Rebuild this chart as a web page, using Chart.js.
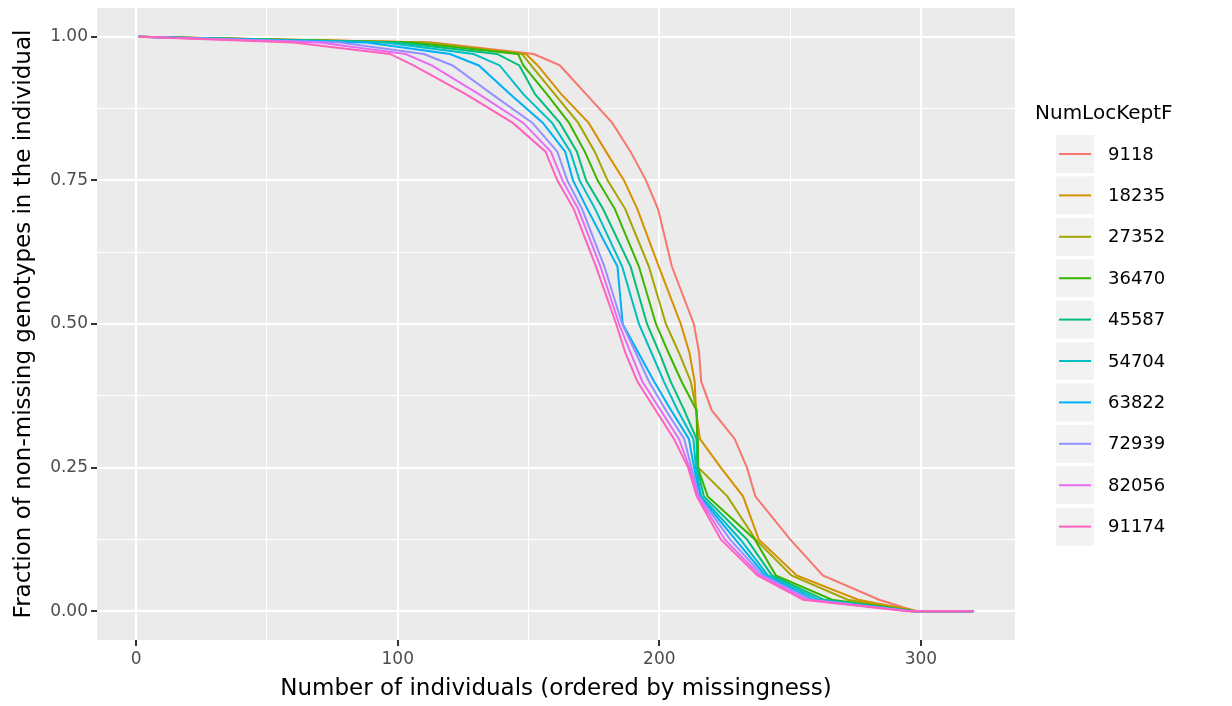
<!DOCTYPE html>
<html>
<head>
<meta charset="utf-8">
<script src="https://cdn.jsdelivr.net/npm/chart.js@4/dist/chart.umd.min.js"></script>
<style>
  html, body { margin: 0; padding: 0; background: #fff; }
  #wrap { width: 1232px; height: 706px; }
</style>
</head>
<body>
<div id="wrap"><canvas id="chart" width="1232" height="706"></canvas></div>
<script>
// fraction of non-missing genotypes at these levels
const levels = [1.0, 0.99, 0.97, 0.95, 0.9, 0.85, 0.8, 0.75, 0.7, 0.6, 0.5, 0.45, 0.4, 0.35, 0.3, 0.25, 0.2, 0.125, 0.0625, 0.02, 0.0, 0.0]

// individual index where each series crosses each level
const s9118  = [1, 113, 152, 162, 172, 182, 189, 194.9, 199.5, 204.8, 213.2, 215.2, 216, 220, 228.8, 233.5, 236.7, 250, 262.5, 284, 298, 320]
const s18235 = [1, 112, 149, 153.5, 162.5, 173, 179.6, 186.5, 191.6, 199.8, 208.2, 211.5, 213.5, 214, 215.5, 223.5, 232, 238, 252.5, 276, 299, 320]
const s27352 = [1, 110, 147.5, 151, 160, 169, 175.3, 180.2, 187, 196, 202.5, 207.5, 212, 214.2, 214.7, 214.9, 226, 236.8, 250.5, 272, 298, 320]
const s36470 = [1, 105, 146, 148, 157, 165.5, 171.5, 176.4, 183, 192.2, 198.7, 203.5, 208.5, 214.2, 214.5, 214.7, 218.5, 236.5, 244.5, 266, 298, 320]
const s45587 = [1, 100, 138, 146.5, 152.5, 162, 168.5, 172, 178.5, 189, 195.3, 200, 204.3, 209.5, 214.2, 214.5, 217, 233.5, 243, 263, 297, 320]
const s54704 = [1, 95, 129, 139, 148, 159, 166, 169.5, 175.5, 185.8, 192.2, 197, 201.7, 207, 213, 214, 216, 231, 241.5, 261, 297, 320]
const s63822 = [1, 88, 120, 131, 143, 155.5, 164, 167, 172.5, 184, 186, 192, 198, 204.5, 211.3, 213.3, 215.5, 229, 240.5, 259, 297, 320]
const s72939 = [1, 78, 110, 121, 136, 151.5, 161, 164.8, 170.5, 179, 185.8, 191, 196, 202.5, 209.5, 212.3, 215.2, 227, 239.5, 258, 296, 320]
const s82056 = [1, 70, 103, 113, 131, 148, 158.5, 163, 169, 177.5, 184.6, 189, 193.5, 200.5, 207.5, 211.5, 214.8, 225, 238.5, 256.5, 296, 320]
const s91174 = [1, 60, 97, 106, 126, 144, 156.5, 161, 167.3, 175.8, 183.5, 187, 191.6, 198.6, 205.6, 211, 214.3, 223.5, 237.5, 255, 295, 320]

const seriesNames = ['9118', '18235', '27352', '36470', '45587', '54704', '63822', '72939', '82056', '91174']
const seriesX = [s9118, s18235, s27352, s36470, s45587, s54704, s63822, s72939, s82056, s91174]
const colors = ['#F8766D', '#D89000', '#A3A500', '#39B600', '#00BF7D', '#00BFC4', '#00B0F6', '#9590FF', '#E76BF3', '#FF62BC']

// axis breaks: labelled majors and unlabelled minors
const xBreaks = [0, 50, 100, 150, 200, 250, 300]
const xLabelled = [0, 100, 200, 300]
const yBreaks = [0, 0.125, 0.25, 0.375, 0.5, 0.625, 0.75, 0.875, 1.0]
const yLabelled = [0, 0.25, 0.5, 0.75, 1.0]

const FONT = "'DejaVu Sans', 'Liberation Sans', sans-serif"

const datasets = seriesNames.map((name, i) => ({
  label: name,
  data: seriesX[i].map((x, j) => ({ x: x, y: levels[j] })),
  borderColor: colors[i],
  backgroundColor: colors[i],
  borderWidth: 2,
  pointRadius: 0,
  tension: 0,
  fill: false,
  order: seriesNames.length - i  // last series on top, like ggplot
}))

const isMajor = (list, v) => list.some(b => Math.abs(b - v) < 1e-9)

// grey panel behind the grid
const panelBg = {
  id: 'panelBg',
  beforeDraw(chart) {
    const { ctx, chartArea: a } = chart
    ctx.save()
    ctx.fillStyle = '#EBEBEB'
    ctx.fillRect(a.left, a.top, a.right - a.left, a.bottom - a.top)
    ctx.restore()
  }
}

// ggplot style legend with title and grey key boxes
const ggLegend = {
  id: 'ggLegend',
  afterDraw(chart) {
    const ctx = chart.ctx
    const sets = chart.data.datasets
    ctx.save()
    ctx.fillStyle = '#000'
    ctx.font = '20px ' + FONT
    ctx.textBaseline = 'middle'
    ctx.textAlign = 'left'
    ctx.fillText('NumLocKeptF', 1035, 114)
    const top = 135, pitch = 41.4, boxW = 38, boxH = 38, boxX = 1056
    sets.forEach((ds, i) => {
      const y = top + i * pitch
      ctx.fillStyle = '#F2F2F2'
      ctx.fillRect(boxX, y, boxW, boxH)
      ctx.strokeStyle = ds.borderColor
      ctx.lineWidth = 2
      ctx.beginPath()
      ctx.moveTo(boxX + 3, y + boxH / 2)
      ctx.lineTo(boxX + boxW - 3, y + boxH / 2)
      ctx.stroke()
      ctx.fillStyle = '#000'
      ctx.font = '18px ' + FONT
      ctx.fillText(ds.label, 1108, y + boxH / 2 + 1)
    })
    ctx.restore()
  }
}

const ctx = document.getElementById('chart')
const chart = new Chart(ctx, {
  type: 'line',
  data: { datasets: datasets },
  plugins: [panelBg, ggLegend],
  options: {
    responsive: false,
    animation: false,
    layout: { padding: { left: 0, top: 8, right: 217, bottom: 0 } },
    plugins: { legend: { display: false }, tooltip: { enabled: false } },
    scales: {
      x: {
        type: 'linear',
        min: -14.95,
        max: 335.95,
        afterBuildTicks: s => { s.ticks = xBreaks.map(v => ({ value: v })) },
        afterFit: s => { s.height = 66; s.paddingLeft = 0; s.paddingRight = 0 },
        border: { display: false },
        grid: {
          color: '#FFFFFF',
          lineWidth: c => (c.tick && isMajor(xLabelled, c.tick.value)) ? 2 : 1,
          tickLength: 6,
          tickWidth: 2,
          tickColor: c => (c.tick && isMajor(xLabelled, c.tick.value)) ? '#333333' : 'rgba(0,0,0,0)'
        },
        ticks: {
          maxRotation: 0,
          autoSkip: false,
          padding: 3,
          color: '#4D4D4D',
          font: { family: FONT, size: 17 },
          callback: v => isMajor(xLabelled, v) ? String(v) : ''
        },
        title: {
          display: true,
          text: 'Number of individuals (ordered by missingness)',
          color: '#000',
          font: { family: FONT, size: 23 },
          padding: { top: 0, bottom: 3 }
        }
      },
      y: {
        type: 'linear',
        min: -0.05,
        max: 1.05,
        afterBuildTicks: s => { s.ticks = yBreaks.map(v => ({ value: v })) },
        afterFit: s => { s.width = 97; s.paddingTop = 0; s.paddingBottom = 0 },
        border: { display: false },
        grid: {
          color: '#FFFFFF',
          lineWidth: c => (c.tick && isMajor(yLabelled, c.tick.value)) ? 2 : 1,
          tickLength: 6,
          tickWidth: 2,
          tickColor: c => (c.tick && isMajor(yLabelled, c.tick.value)) ? '#333333' : 'rgba(0,0,0,0)'
        },
        ticks: {
          autoSkip: false,
          padding: 3,
          color: '#4D4D4D',
          font: { family: FONT, size: 17 },
          callback: v => isMajor(yLabelled, v) ? v.toFixed(2) : ''
        },
        title: {
          display: true,
          text: 'Fraction of non-missing genotypes in the individual',
          color: '#000',
          font: { family: FONT, size: 23 },
          padding: { top: 10, bottom: 0 }
        }
      }
    }
  }
})
</script>
</body>
</html>
